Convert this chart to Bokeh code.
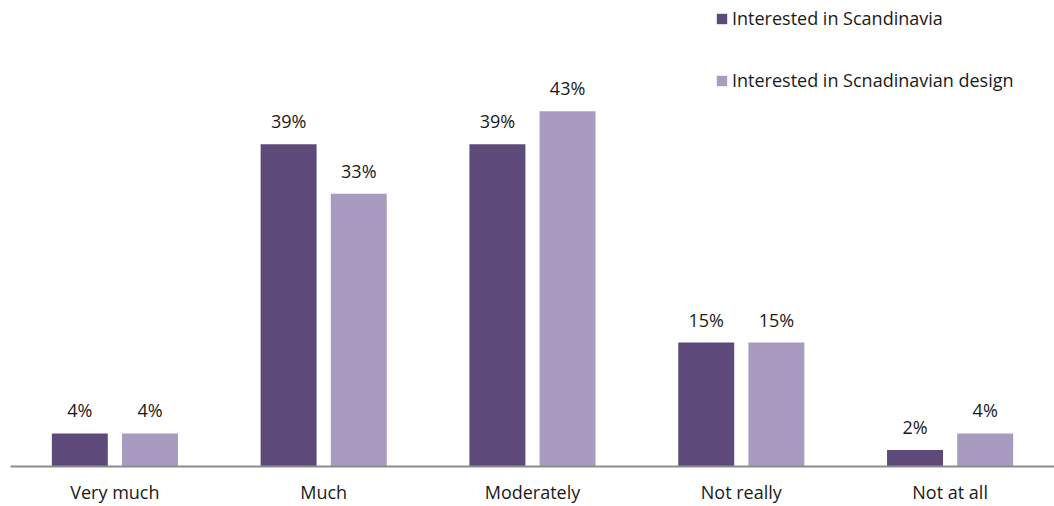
from bokeh.plotting import figure
from bokeh.models import ColumnDataSource, FactorRange, Range1d
from bokeh.transform import dodge
from bokeh.core.properties import value
from bokeh.embed import file_html
from bokeh.resources import INLINE

# Survey answers: level of interest
categories = ["Very much", "Much", "Moderately", "Not really", "Not at all"]
scandinavia = [4, 39, 39, 15, 2]
scandi_design = [4, 33, 43, 15, 4]
series_names = ["Interested in Scandinavia", "Interested in Scnadinavian design"]

DARK = "#5E4A7A"
LIGHT = "#A99AC0"
FONT = "Open Sans"
FONT_SIZE = "18px"
TEXT_COLOR = "#1a1a1a"

src = ColumnDataSource(dict(
    cat=categories,
    a=scandinavia,
    b=scandi_design,
    a_lbl=[f"{v}%" for v in scandinavia],
    b_lbl=[f"{v}%" for v in scandi_design],
))

p = figure(
    width=1054, height=506,
    x_range=FactorRange(*categories, range_padding=0),
    y_range=Range1d(0, 56.4),
    output_backend="svg", toolbar_location=None,
    y_axis_type=None,
    min_border_left=10, min_border_right=0, min_border_top=0, min_border_bottom=40,
)
p.outline_line_color = None
p.grid.visible = False
p.background_fill_color = "white"

offset = 0.168
bar_w = 0.268

p.vbar(x=dodge("cat", -offset, range=p.x_range), top="a", width=bar_w, source=src,
       fill_color=DARK, line_color=None, legend_label=series_names[0])
p.vbar(x=dodge("cat", offset, range=p.x_range), top="b", width=bar_w, source=src,
       fill_color=LIGHT, line_color=None, legend_label=series_names[1])

# percentage labels above each bar
for col, lbl, off in (("a", "a_lbl", -offset), ("b", "b_lbl", offset)):
    p.text(x=dodge("cat", off, range=p.x_range), y=col, text=lbl, source=src,
           text_align="center", text_baseline="alphabetic", y_offset=-23,
           text_font=value(FONT), text_font_size=FONT_SIZE, text_color=TEXT_COLOR)

ax = p.xaxis[0]
ax.axis_line_color = "#8c8c8c"
ax.axis_line_width = 2
ax.major_tick_line_color = None
ax.minor_tick_line_color = None
ax.major_tick_out = 0
ax.major_tick_in = 0
ax.minor_tick_out = 0
ax.minor_tick_in = 0
ax.major_label_text_font = FONT
ax.major_label_text_font_size = FONT_SIZE
ax.major_label_text_color = TEXT_COLOR
ax.major_label_standoff = 13
ax.group_text_font_size = "0px"

leg = p.legend[0]
leg.location = (705, 374)
leg.border_line_color = None
leg.background_fill_alpha = 0
leg.padding = 0
leg.margin = 0
leg.spacing = 38
leg.glyph_width = 13
leg.glyph_height = 13
leg.label_height = 24
leg.label_standoff = 4
leg.label_text_font = FONT
leg.label_text_font_size = FONT_SIZE
leg.label_text_color = TEXT_COLOR

open("out.html", "w").write(file_html(p, INLINE))
